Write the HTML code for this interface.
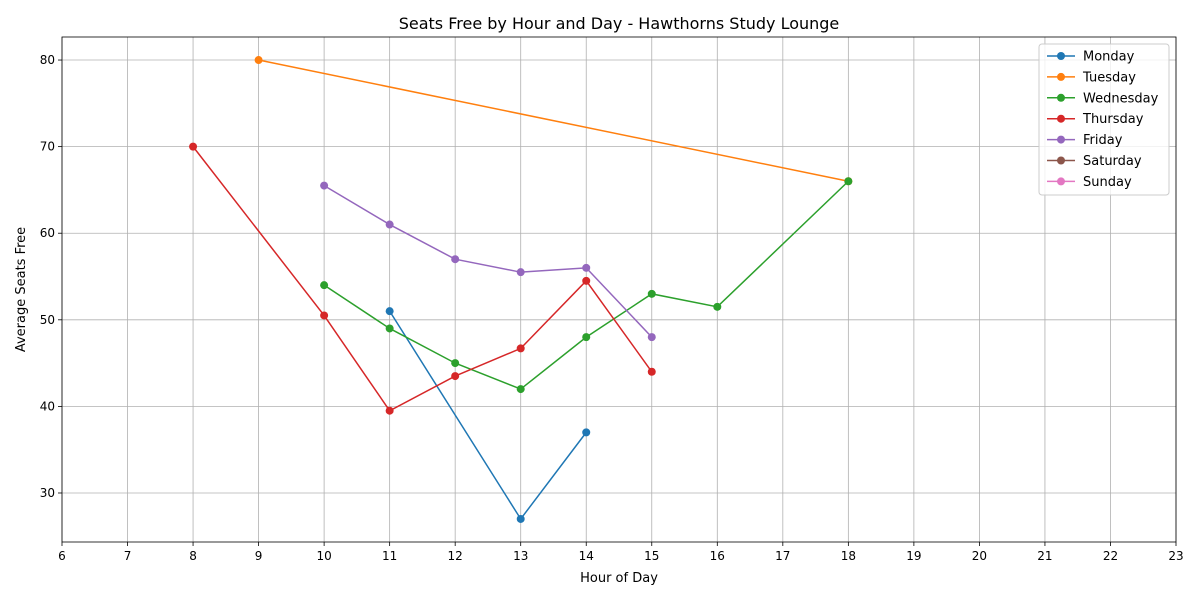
<!DOCTYPE html>
<html><head><meta charset="utf-8"><style>
body{margin:0;background:#fff;font-family:"Liberation Sans","DejaVu Sans",sans-serif;}
svg text{font-family:"DejaVu Sans","Liberation Sans",sans-serif;}
</style></head><body>
<svg id="chart" width="1200" height="600" xmlns="http://www.w3.org/2000/svg"></svg>
<script>
const xTicks=[6,7,8,9,10,11,12,13,14,15,16,17,18,19,20,21,22,23];
const yTicks=[30,40,50,60,70,80];
const seriesNames=["Monday","Tuesday","Wednesday","Thursday","Friday","Saturday","Sunday"];
const colors=["#1f77b4","#ff7f0e","#2ca02c","#d62728","#9467bd","#8c564b","#e377c2"];
const mondayHours=[11,13,14];
const mondayVals=[51,27,37];
const tuesdayHours=[9,18];
const tuesdayVals=[80,66];
const wednesdayHours=[10,11,12,13,14,15,16,18];
const wednesdayVals=[54,49,45,42,48,53,51.5,66];
const thursdayHours=[8,10,11,12,13,14,15];
const thursdayVals=[70,50.5,39.5,43.5,46.7,54.5,44];
const fridayHours=[10,11,12,13,14,15];
const fridayVals=[65.5,61,57,55.5,56,48];
const saturdayHours=[];const saturdayVals=[];
const sundayHours=[];const sundayVals=[];
const series=[[mondayHours,mondayVals],[tuesdayHours,tuesdayVals],[wednesdayHours,wednesdayVals],[thursdayHours,thursdayVals],[fridayHours,fridayVals],[saturdayHours,saturdayVals],[sundayHours,sundayVals]];
const L=62,R=1176,T=37,B=542;
const xMin=6,xMax=23,yMin=24.34,yMax=82.66;
const X=v=>L+(v-xMin)/(xMax-xMin)*(R-L);
const Y=v=>B-(v-yMin)/(yMax-yMin)*(B-T);
const svg=document.getElementById('chart');const NS="http://www.w3.org/2000/svg";
function mk(t,a,p){const e=document.createElementNS(NS,t);for(const k in a)e.setAttribute(k,a[k]);(p||svg).appendChild(e);return e;}
const grid=mk('g',{});


xTicks.forEach(t=>{mk('line',{x1:X(t),x2:X(t),y1:T,y2:B,stroke:'#b0b0b0','stroke-width':0.8},grid);
 mk('line',{x1:X(t),x2:X(t),y1:B,y2:B+4,stroke:'#000','stroke-width':0.8});
 const tx=mk('text',{x:X(t),y:B+18,'text-anchor':'middle','font-size':12});tx.textContent=t;
 
 });
yTicks.forEach(t=>{mk('line',{x1:L,x2:R,y1:Y(t),y2:Y(t),stroke:'#b0b0b0','stroke-width':0.8},grid);
 mk('line',{x1:L-4,x2:L,y1:Y(t),y2:Y(t),stroke:'#000','stroke-width':0.8});
 const tx=mk('text',{x:L-7,y:Y(t)+4,'text-anchor':'end','font-size':12});tx.textContent=t;
 
 });
series.forEach((s,i)=>{const g=mk('g',{});
 
 
 if(s[0].length>1)mk('polyline',{points:s[0].map((h,j)=>X(h)+','+Y(s[1][j])).join(' '),fill:'none',stroke:colors[i],'stroke-width':1.5},g);
 s[0].forEach((h,j)=>{const c=mk('circle',{cx:X(h),cy:Y(s[1][j]),r:4,fill:colors[i]},g);
  
  });});
const fr=mk('rect',{x:L,y:T,width:R-L,height:B-T,fill:'none',stroke:'#000','stroke-width':0.8});


let t=mk('text',{x:(L+R)/2,y:29,'text-anchor':'middle','font-size':16});t.textContent='Seats Free by Hour and Day - Hawthorns Study Lounge';

t=mk('text',{x:(L+R)/2,y:582,'text-anchor':'middle','font-size':13});t.textContent='Hour of Day';

t=mk('text',{x:25,y:(T+B)/2,'text-anchor':'middle','font-size':13,transform:`rotate(-90 25 ${(T+B)/2})`});t.textContent='Average Seats Free';

const lg=mk('g',{});

mk('rect',{x:1039,y:44,width:130,height:151,fill:'#fff','fill-opacity':0.8,stroke:'#ccc',rx:3},lg);
seriesNames.forEach((n,i)=>{const y=56+i*20.9;const e=mk('g',{},lg);
 
 mk('line',{x1:1047,x2:1075,y1:y,y2:y,stroke:colors[i],'stroke-width':1.5},e);
 mk('circle',{cx:1061,cy:y,r:4,fill:colors[i]},e);
 const tx=mk('text',{x:1083,y:y+4.5,'font-size':13},e);tx.textContent=n;});
</script>
</body></html>
